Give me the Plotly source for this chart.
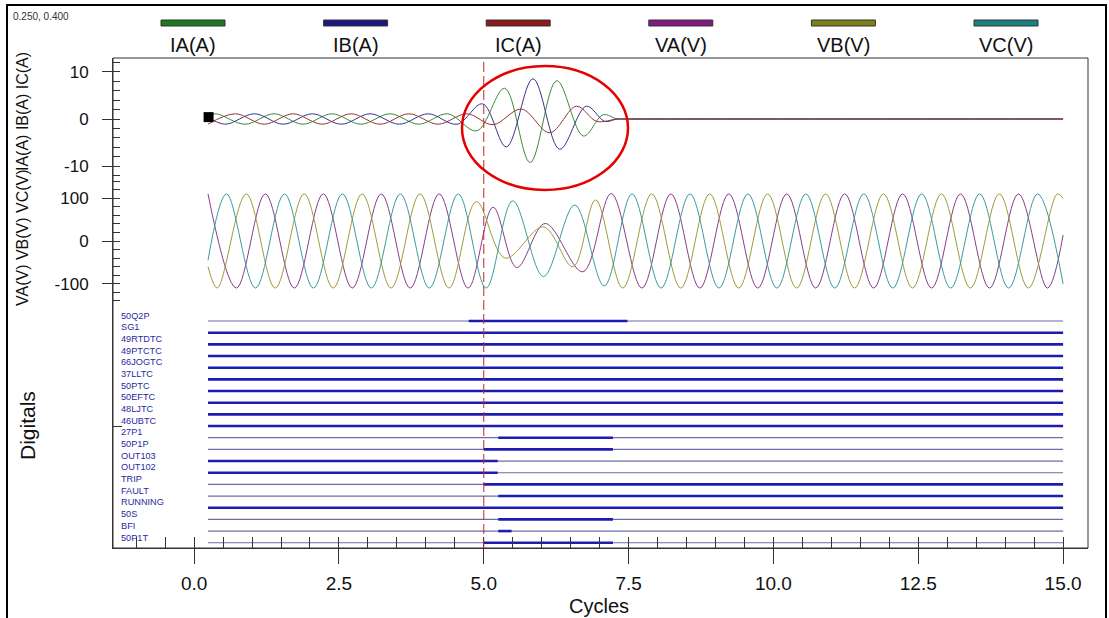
import plotly.graph_objects as go

W, H = 1109, 618

# ---------------- data ----------------
# knots: times in cycles of each local extremum, and value there
IA_t = [0.24, 0.38, 0.88, 1.38, 1.88, 2.38, 2.88, 3.38, 3.88, 4.38, 4.88, 5.36, 5.80, 6.26, 6.72, 7.06, 7.30, 7.45, 15.0]
IA_v = [0.7, 1.1, -1.1, 1.1, -1.1, 1.1, -1.1, 1.1, -1.1, 1.1, -2.5, 6.5, -9.2, 8.1, -3.6, 0.9, 0.0, 0.0, 0.0]

IB_t = [0.24, 0.54, 1.04, 1.54, 2.04, 2.54, 3.04, 3.54, 4.04, 4.54, 4.98, 5.39, 5.85, 6.31, 6.77, 7.09, 7.30, 7.45, 15.0]
IB_v = [0.34, -1.1, 1.1, -1.1, 1.1, -1.1, 1.1, -1.1, 1.1, -1.1, 3.2, -5.9, 8.5, -6.4, 2.7, -0.5, 0.0, 0.0, 0.0]

IC_t = [0.24, 0.71, 1.21, 1.71, 2.21, 2.71, 3.21, 3.71, 4.21, 4.71, 5.16, 5.65, 6.14, 6.60, 6.95, 7.30, 7.45, 15.0]
IC_v = [-1.08, 1.1, -1.1, 1.1, -1.1, 1.1, -1.1, 1.1, -1.1, 1.1, -1.2, 2.1, -2.9, 2.7, -0.5, 0.0, 0.0, 0.0]

VA_t = [0.24, 0.73, 1.23, 1.73, 2.23, 2.73, 3.23, 3.73, 4.23, 4.73, 5.16, 5.57, 6.06, 6.71, 7.20,
        7.73, 8.23, 8.73, 9.23, 9.73, 10.23, 10.73, 11.23, 11.73, 12.23, 12.73, 13.23, 13.73, 14.23, 14.73, 15.0]
VA_v = [110, -110, 110, -110, 110, -110, 110, -110, 110, -110, 79, -62, 41, -72, 111,
        -110, 110, -110, 110, -110, 110, -110, 110, -110, 110, -110, 110, -110, 110, -110, 14]

VB_t = [0.24, 0.40, 0.90, 1.40, 1.90, 2.40, 2.90, 3.40, 3.90, 4.40, 4.87, 5.37, 6.03, 6.54, 6.93,
        7.40, 7.90, 8.40, 8.90, 9.40, 9.90, 10.40, 10.90, 11.40, 11.90, 12.40, 12.90, 13.40, 13.90, 14.40, 14.90, 15.0]
VB_v = [-60, -110, 110, -110, 110, -110, 110, -110, 110, -110, 92, -40, 33, -60, 96,
        -110, 110, -110, 110, -110, 110, -110, 110, -110, 110, -110, 110, -110, 110, -110, 110, 100]

VC_t = [0.24, 0.56, 1.06, 1.56, 2.06, 2.56, 3.06, 3.56, 4.06, 4.56, 5.04, 5.50, 6.03, 6.57, 7.08,
        7.56, 8.06, 8.56, 9.06, 9.56, 10.06, 10.56, 11.06, 11.56, 12.06, 12.56, 13.06, 13.56, 14.06, 14.56, 15.0]
VC_v = [-45, 110, -110, 110, -110, 110, -110, 110, -110, 110, -110, 94, -83, 84, -105,
        110, -110, 110, -110, 110, -110, 110, -110, 110, -110, 110, -110, 110, -110, 110, -100]

ANALOG_NAMES = ["IA(A)", "IB(A)", "IC(A)", "VA(V)", "VB(V)", "VC(V)"]
LEGEND_COLORS = ["#1f7a1f", "#1a1a80", "#8a1a1a", "#801a80", "#80801a", "#1a8080"]
TRACE_COLORS = ["#3a8a3a", "#34348e", "#983434", "#8c3c8c", "#9c9c3c", "#3c9c9c"]

DIGITAL_NAMES = ["50Q2P", "SG1", "49RTDTC", "49PTCTC", "66JOGTC", "37LLTC", "50PTC", "50EFTC",
                 "48LJTC", "46UBTC", "27P1", "50P1P", "OUT103", "OUT102", "TRIP", "FAULT",
                 "RUNNING", "50S", "BFI", "50P1T"]
# asserted intervals (start, end) in cycles for each digital channel
DIGITAL_ON = [
    [(4.74, 7.48)],
    [(0.24, 15.0)], [(0.24, 15.0)], [(0.24, 15.0)], [(0.24, 15.0)], [(0.24, 15.0)],
    [(0.24, 15.0)], [(0.24, 15.0)], [(0.24, 15.0)], [(0.24, 15.0)],
    [(5.25, 7.23)],
    [(5.00, 7.23)],
    [(0.24, 5.24)],
    [(0.24, 5.24)],
    [(5.00, 15.0)],
    [(5.25, 15.0)],
    [(0.24, 15.0)],
    [(5.25, 7.23)],
    [(5.25, 5.48)],
    [(5.00, 7.23)],
]
REC_START, REC_END = 0.24, 15.0
TRIGGER = 5.0
CURSOR = (0.25, 0.40)

X_TICKS = [0.0, 2.5, 5.0, 7.5, 10.0, 12.5, 15.0]
I_TICKS = [-10, 0, 10]
V_TICKS = [-100, 0, 100]

# ---------------- layout helpers ----------------
def px_x(p):
    return p / W

def px_y(p):
    return 1 - p / H

PLOT_L, PLOT_R = 113, 1088
I_TOP, I_BOT = 58, 180
V_TOP, V_BOT = 180, 302
D_TOP, D_BOT = 302, 548
I_RANGE = [-12.9, 12.9]
V_RANGE = [-142.5, 142.5]
D_RANGE = [19.45, -1.63]
X_RANGE = [-1.4, 15.43]

fig = go.Figure()

currents = [(IA_t, IA_v), (IB_t, IB_v), (IC_t, IC_v)]
voltages = [(VA_t, VA_v), (VB_t, VB_v), (VC_t, VC_v)]

for k, (t, v) in enumerate(voltages):
    fig.add_trace(go.Scatter(x=t, y=v, mode="lines", line=dict(color=TRACE_COLORS[3 + k], width=1, shape="spline", smoothing=1.0),
                             xaxis="x", yaxis="y2", showlegend=False, hoverinfo="skip"))
for k, (t, v) in enumerate(currents):
    fig.add_trace(go.Scatter(x=t, y=v, mode="lines", line=dict(color=TRACE_COLORS[k], width=1, shape="spline", smoothing=1.0),
                             xaxis="x", yaxis="y", showlegend=False, hoverinfo="skip"))

# digital baselines and asserted segments
bx, by, ax_, ay = [], [], [], []
for i, name in enumerate(DIGITAL_NAMES):
    bx += [REC_START, REC_END, None]
    by += [i, i, None]
    for (s, e) in DIGITAL_ON[i]:
        ax_ += [s, e, None]
        ay += [i, i, None]
fig.add_trace(go.Scatter(x=bx, y=by, mode="lines", line=dict(color="#6c6ca6", width=1.2),
                         xaxis="x", yaxis="y3", showlegend=False, hoverinfo="skip"))
fig.add_trace(go.Scatter(x=ax_, y=ay, mode="lines", line=dict(color="#1c1cb0", width=2.6),
                         xaxis="x", yaxis="y3", showlegend=False, hoverinfo="skip"))

# cursor marker
fig.add_trace(go.Scatter(x=[CURSOR[0]], y=[CURSOR[1]], mode="markers",
                         marker=dict(symbol="square", size=10, color="black"),
                         xaxis="x", yaxis="y", showlegend=False, hoverinfo="skip"))

# invisible traces so the overlay (inner tick) axes get drawn
for xa, ya in [("x2", "y3"), ("x", "y4"), ("x", "y5")]:
    fig.add_trace(go.Scatter(x=[0], y=[0], mode="markers", marker=dict(opacity=0, size=1),
                             xaxis=xa, yaxis=ya, showlegend=False, hoverinfo="skip"))

FONT = "Liberation Sans, Arial, sans-serif"
plain = dict(showgrid=False, zeroline=False, tickcolor="#333")
xdom = [px_x(PLOT_L), px_x(PLOT_R)]

fig.update_layout(
    width=W, height=H, autosize=False,
    margin=dict(l=0, r=0, t=0, b=0),
    paper_bgcolor="white", plot_bgcolor="white",
    xaxis=dict(domain=xdom, range=X_RANGE, anchor="y3", showline=True, linecolor="#333", ticks="outside", ticklen=15,
               tickvals=X_TICKS, ticktext=[f"{v:.1f}" for v in X_TICKS],
               tickfont=dict(family=FONT, size=19, color="#111"), ticklabelstandoff=3, **plain),
    xaxis2=dict(domain=xdom, range=X_RANGE, overlaying="x", anchor="y3", showline=False, ticks="inside", ticklen=11,
                tick0=0, dtick=0.5, showticklabels=False, **plain),
    yaxis=dict(domain=[px_y(I_BOT), px_y(I_TOP)], range=I_RANGE, anchor="x", showline=True, linecolor="#333",
               ticks="outside", ticklen=10, tickvals=I_TICKS, ticktext=[str(v) for v in I_TICKS],
               tickfont=dict(family=FONT, size=17, color="#111"), ticklabelstandoff=10, **plain),
    yaxis4=dict(domain=[px_y(I_BOT), px_y(I_TOP)], range=I_RANGE, overlaying="y", anchor="x", ticks="inside", ticklen=7,
                tick0=0, dtick=2, showticklabels=False, showline=False, **plain),
    yaxis2=dict(domain=[px_y(V_BOT), px_y(V_TOP)], range=V_RANGE, anchor="x", showline=True, linecolor="#333",
                ticks="outside", ticklen=10, tickvals=V_TICKS, ticktext=[str(v) for v in V_TICKS],
                tickfont=dict(family=FONT, size=17, color="#111"), ticklabelstandoff=10, **plain),
    yaxis5=dict(domain=[px_y(V_BOT), px_y(V_TOP)], range=V_RANGE, overlaying="y2", anchor="x", ticks="inside", ticklen=7,
                tick0=0, dtick=20, showticklabels=False, showline=False, **plain),
    yaxis3=dict(domain=[px_y(D_BOT), px_y(D_TOP)], range=D_RANGE, anchor="x", showline=True, linecolor="#333",
                ticks="inside", ticklen=9, tickvals=[9.0], showticklabels=False, **plain),
)

shapes = []
# plot frame
shapes.append(dict(type="rect", xref="paper", yref="paper", x0=px_x(PLOT_L), x1=px_x(PLOT_R), y0=px_y(D_BOT), y1=px_y(I_TOP),
                   line=dict(color="#333", width=1), layer="below"))
# outer border
shapes.append(dict(type="rect", xref="paper", yref="paper", x0=px_x(7), x1=px_x(1106), y0=px_y(640), y1=px_y(5),
                   line=dict(color="black", width=2)))
# trigger line
shapes.append(dict(type="line", xref="x", yref="paper", x0=TRIGGER, x1=TRIGGER, y0=px_y(D_BOT), y1=px_y(I_TOP),
                   line=dict(color="#c02828", width=1, dash="10px,4px")))
# red ellipse highlight
shapes.append(dict(type="circle", xref="paper", yref="paper", x0=px_x(462), x1=px_x(628), y0=px_y(190), y1=px_y(66),
                   line=dict(color="#e60000", width=2.5)))

annotations = []
# legend
for k, name in enumerate(ANALOG_NAMES):
    cx = 193 + 162.6 * k
    shapes.append(dict(type="rect", xref="paper", yref="paper", x0=px_x(cx - 32), x1=px_x(cx + 32), y0=px_y(26), y1=px_y(20),
                       fillcolor=LEGEND_COLORS[k], line=dict(color="#333", width=1)))
    annotations.append(dict(text=name, xref="paper", yref="paper", x=px_x(cx), y=px_y(45), xanchor="center", yanchor="middle",
                            showarrow=False, font=dict(family=FONT, size=20, color="#111")))

# digital labels
for i, name in enumerate(DIGITAL_NAMES):
    annotations.append(dict(text=name, xref="paper", yref="y3", x=px_x(119), y=i - 0.45, xanchor="left", yanchor="middle",
                            showarrow=False, font=dict(family=FONT, size=9.2, color="#2a2aa0")))

# axis titles
annotations.append(dict(text="IA(A) IB(A) IC(A)", xref="paper", yref="paper", x=px_x(22), y=px_y(112), textangle=-90,
                        xanchor="center", yanchor="middle", showarrow=False, font=dict(family=FONT, size=16, color="#111")))
annotations.append(dict(text="VA(V) VB(V) VC(V)", xref="paper", yref="paper", x=px_x(22), y=px_y(238), textangle=-90,
                        xanchor="center", yanchor="middle", showarrow=False, font=dict(family=FONT, size=16, color="#111")))
annotations.append(dict(text="Digitals", xref="paper", yref="paper", x=px_x(27), y=px_y(426), textangle=-90,
                        xanchor="center", yanchor="middle", showarrow=False, font=dict(family=FONT, size=21, color="#111")))
annotations.append(dict(text="Cycles", xref="paper", yref="paper", x=px_x(599), y=px_y(606),
                        xanchor="center", yanchor="middle", showarrow=False, font=dict(family=FONT, size=20, color="#111")))
annotations.append(dict(text=f"{CURSOR[0]:.3f}, {CURSOR[1]:.3f}", xref="paper", yref="paper", x=px_x(11), y=px_y(16),
                        xanchor="left", yanchor="middle", showarrow=False, font=dict(family=FONT, size=10, color="#333")))

fig.update_layout(shapes=shapes, annotations=annotations)
fig.write_html("out.html")
